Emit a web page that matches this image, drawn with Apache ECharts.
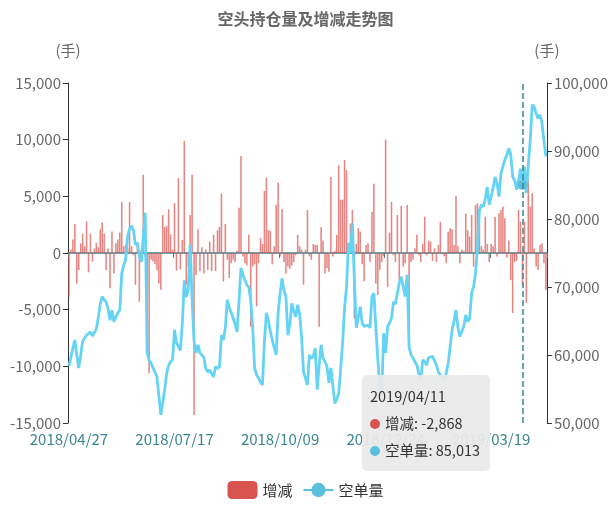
<!DOCTYPE html>
<html>
<head>
<meta charset="utf-8">
<script src="https://cdn.jsdelivr.net/npm/echarts@6/dist/echarts.min.js"></script>
<style>
html,body{margin:0;padding:0;background:#fff;}
#chart{width:611px;height:509px;}
</style>
</head>
<body>
<div id="chart"></div>
<script>
// ---- data ----
const startDate = '2018-04-27';
const endDate = '2019-04-29';
const holidays = ['2018-04-30','2018-05-01','2018-06-18','2018-09-24','2018-10-01','2018-10-02','2018-10-03','2018-10-04','2018-10-05','2018-12-31','2019-01-01','2019-02-04','2019-02-05','2019-02-06','2019-02-07','2019-02-08','2019-04-05'];

const changeVals = [
-3850,300,1200,2560,-2700,-1500,850,1700,600,2800,
-1700,1700,-760,400,900,500,2100,2700,1700,-1500,
400,-3100,1900,-1800,850,1200,1800,4500,600,700,
400,4500,600,-200,-2800,900,-4300,300,6900,-300,
-8850,-10600,-600,-760,-1000,-1500,-2700,-3250,3350,2300,
2400,3850,1650,300,4400,-1550,6600,-1440,1150,9900,
-2800,-1200,3350,6900,-14300,-1940,2100,-1600,500,-1800,
300,-1500,1000,-1600,1600,-1600,2000,2300,5250,-2500,
2550,-600,-2200,-900,-600,-800,200,4000,8550,-300,
-900,-1100,1600,-6500,-1200,-1000,-4700,-900,1300,800,
5470,6640,2030,1940,-1000,600,4230,6200,-300,3880,
-800,-1800,-1200,-1400,-1100,-800,-200,1600,600,300,
-2800,300,3800,-300,-600,800,700,700,-6500,2300,
1100,-1800,-1350,-1650,6700,-300,200,1600,7750,4700,
4700,8200,7300,700,2600,3800,-5760,800,2200,1900,
-1000,-2500,700,850,-800,3650,6100,-2700,-3700,-1500,
-800,-300,10000,-3000,1800,4500,-200,-800,3350,-2400,
4150,-1200,-900,4230,-8000,-800,-600,400,1600,-200,
-800,800,3200,-200,1100,1000,-700,400,-800,700,
2760,-100,-300,-900,1880,2180,2100,700,5000,600,
-900,300,200,3500,2000,1450,3350,-1200,4230,4400,
2470,600,300,3200,800,-800,800,600,3200,-300,
3500,3800,4100,3060,-400,1100,-2400,-5300,-800,-700,
3800,2760,-2868,2760,-4400,6500,4100,5260,400,-1200,
-1500,700,850,-900,-3260
];

const shortVals = [
58400,58500,61000,62200,60000,58100,60000,62000,62500,62900,
63000,63400,62800,62600,63800,65500,67500,68600,68100,67800,
66800,65100,66600,64900,65600,66200,66600,72000,73200,74000,
77500,78500,79000,78300,76200,76500,74500,73700,77400,80900,
60300,59200,58800,58100,57500,56800,54000,51200,53000,55000,
57300,58500,59000,59300,63700,61800,62000,60700,64700,71000,
68500,69600,76200,68000,62000,60300,61500,60300,60000,59600,
58000,57500,57800,57200,56800,58300,58000,58300,62900,62200,
64000,68100,67000,66200,65400,64500,63400,68000,72800,71800,
71000,70300,70000,68000,64000,58000,57100,56600,56000,55600,
62000,66200,65100,63500,62200,62200,60000,66200,69000,71300,
69500,68600,62900,64500,67600,66500,65600,67400,66000,62700,
57500,57300,55600,60000,59500,59800,61000,54900,58500,61500,
59500,59000,58300,55900,58100,55500,52900,53500,54400,58000,
61800,67000,70000,76500,75000,79400,71000,64000,65500,67100,
64700,64200,64400,64400,64000,68600,69100,64000,59300,55300,
54000,63200,60300,64200,64700,65400,67800,67500,67600,70600,
71500,70000,68600,71800,61200,60000,59600,59000,58500,57300,
56300,59300,59000,58500,59600,59600,59800,59800,58500,57500,
57500,56600,56300,57300,58800,61200,63700,65000,66600,64000,
62700,63500,64200,65900,64900,65400,69100,70000,72000,75900,
81300,82100,81800,83000,84700,82100,83300,84600,86200,85200,
83300,86700,86700,88700,89400,90400,89500,86200,85700,84300,
85700,87400,85013,87700,83800,88000,91600,96800,96500,95500,
94800,95300,94100,91500,89200
];

const seriesNames = ['增减', '空单量'];
const leftTicks = {min: -15000, max: 15000, interval: 5000};
const rightTicks = {min: 50000, max: 100000, interval: 10000};
const tipDate = '2019/04/11';

// trading-day categories
function pad(n){return n < 10 ? '0' + n : '' + n;}
const dates = [];
(function(){
  const d = new Date(startDate + 'T00:00:00Z');
  const e = new Date(endDate + 'T00:00:00Z');
  while (d <= e) {
    const iso = d.getUTCFullYear() + '-' + pad(d.getUTCMonth()+1) + '-' + pad(d.getUTCDate());
    const wd = d.getUTCDay();
    if (wd !== 0 && wd !== 6 && holidays.indexOf(iso) < 0) {
      dates.push(iso.replace(/-/g, '/'));
    }
    d.setUTCDate(d.getUTCDate() + 1);
  }
})();

function commas(v){ return String(v).replace(/\B(?=(\d{3})+(?!\d))/g, ','); }

const FONT = '"Noto Sans CJK SC", "Noto Sans", sans-serif';
const RED = '#d9534f';
const BLUE = '#5bc0de';
const TEAL = '#3a8590';

const chart = echarts.init(document.getElementById('chart'), null, {renderer: 'canvas'});
const option = {
  animation: false,
  textStyle: {fontFamily: FONT},
  title: {
    text: '空头持仓量及增减走势图',
    left: 'center',
    top: 6,
    textStyle: {fontSize: 16, fontWeight: 'bold', color: '#666', fontFamily: FONT}
  },
  legend: {
    data: [
      {name: seriesNames[0], icon: 'roundRect', itemStyle: {opacity: 1}},
      {name: seriesNames[1]}
    ],
    bottom: 5,
    left: 'center',
    itemWidth: 30,
    itemHeight: 18,
    itemGap: 10,
    textStyle: {fontSize: 15, color: '#333', fontFamily: FONT}
  },
  grid: {left: 68, right: 63, top: 83, bottom: 86, containLabel: false},
  tooltip: {
    trigger: 'axis',
    alwaysShowContent: true,
    triggerOn: 'none',
    transitionDuration: 0,
    backgroundColor: 'rgba(234,234,234,0.93)',
    borderWidth: 0,
    padding: [7, 10, 8, 8],
    extraCssText: 'box-shadow:none;border-radius:5px;line-height:27px;',
    textStyle: {color: '#333', fontSize: 14, fontFamily: FONT},
    position: function(){ return [362, 375]; },
    axisPointer: {
      type: 'line',
      lineStyle: {color: TEAL, type: 'dashed', width: 1.5}
    },
    formatter: function(params){
      let s = '<div style="font-family:' + FONT.replace(/"/g,"'") + ';font-size:14.5px;color:#333;line-height:27px;">' + params[0].axisValue;
      params.forEach(function(p){
        s += '<br/><span style="display:inline-block;margin-right:5px;border-radius:50%;width:10px;height:10px;background:' + p.color + ';"></span>' + p.seriesName + ': ' + commas(p.value);
      });
      return s + '</div>';
    }
  },
  xAxis: [
    {
      type: 'category',
      data: dates,
      position: 'bottom',
      boundaryGap: true,
      axisLine: {show: true, onZero: true, lineStyle: {color: TEAL, width: 1.5}},
      axisTick: {show: true, interval: 53, length: 5, lineStyle: {color: TEAL}},
      axisLabel: {show: false},
      splitLine: {show: false}
    },
    {
      type: 'category',
      data: dates,
      position: 'bottom',
      boundaryGap: true,
      axisLine: {show: false, onZero: false},
      axisTick: {show: false},
      axisLabel: {show: true, interval: 53, color: TEAL, fontSize: 15, margin: 9, fontFamily: FONT},
      splitLine: {show: false},
      axisPointer: {show: false}
    }
  ],
  yAxis: [
    {
      type: 'value',
      position: 'left',
      min: leftTicks.min, max: leftTicks.max, interval: leftTicks.interval,
      name: '(手)',
      nameLocation: 'end',
      nameGap: 25,
      nameTextStyle: {color: '#666', fontSize: 15, fontFamily: FONT},
      axisLine: {show: true, lineStyle: {color: '#333'}},
      axisTick: {show: true, length: 5, lineStyle: {color: '#333'}},
      axisLabel: {color: '#666', fontSize: 15, margin: 7, fontFamily: FONT, formatter: function(v){return commas(v);}},
      splitLine: {show: false}
    },
    {
      type: 'value',
      position: 'right',
      min: rightTicks.min, max: rightTicks.max, interval: rightTicks.interval,
      name: '(手)',
      nameLocation: 'end',
      nameGap: 25,
      nameTextStyle: {color: '#666', fontSize: 15, fontFamily: FONT},
      axisLine: {show: true, lineStyle: {color: '#333'}},
      axisTick: {show: true, length: 5, lineStyle: {color: '#333'}},
      axisLabel: {color: '#666', fontSize: 15, margin: 7, fontFamily: FONT, formatter: function(v){return commas(v);}},
      splitLine: {show: false}
    }
  ],
  series: [
    {
      name: seriesNames[0],
      type: 'bar',
      xAxisIndex: 0,
      yAxisIndex: 0,
      data: changeVals,
      itemStyle: {color: RED, opacity: 0.7},
      barCategoryGap: '20%'
    },
    {
      name: seriesNames[1],
      type: 'line',
      xAxisIndex: 0,
      yAxisIndex: 1,
      data: shortVals,
      showSymbol: false,
      symbol: 'circle',
      symbolSize: 9,
      lineStyle: {color: BLUE, width: 2.8},
      itemStyle: {color: BLUE}
    }
  ]
};
chart.setOption(option);
function showTip(){
  chart.dispatchAction({type: 'showTip', seriesIndex: 0, dataIndex: dates.indexOf(tipDate)});
}
showTip();
setTimeout(showTip, 50);
</script>
</body>
</html>
